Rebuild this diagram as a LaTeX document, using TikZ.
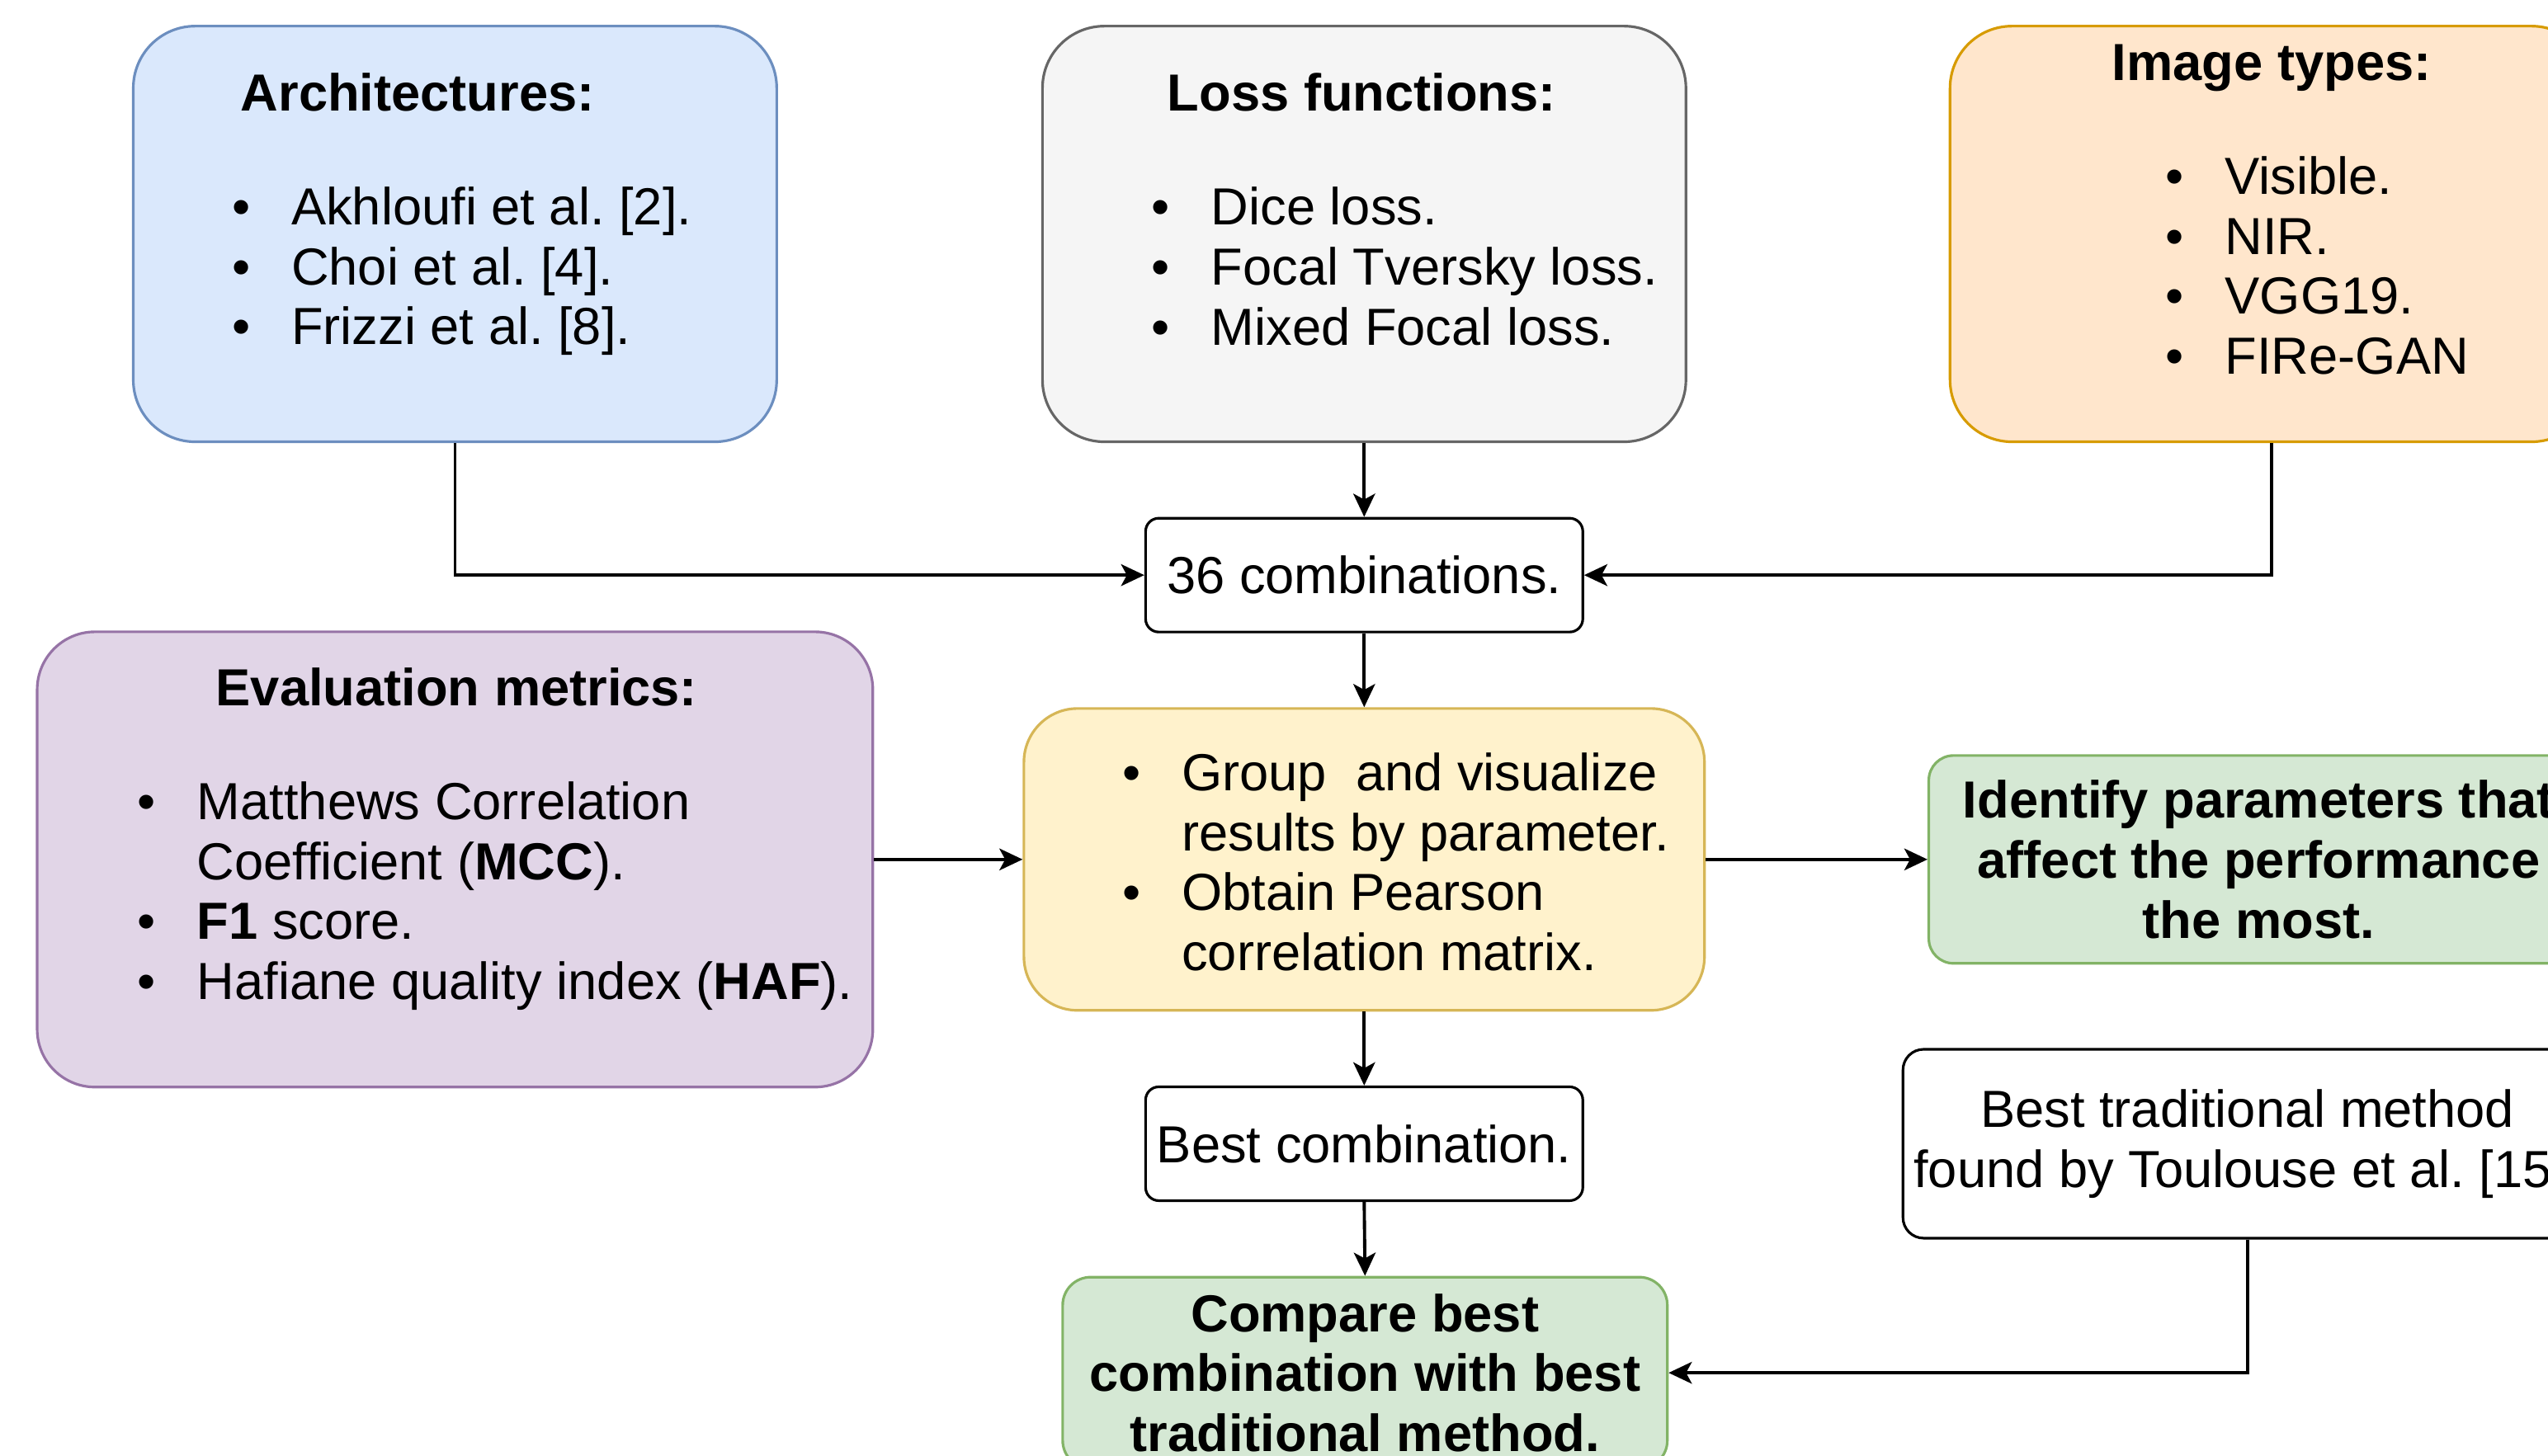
\documentclass[tikz,border=0pt]{standalone}
\usepackage{xcolor}
\usepackage{fontspec}
\setmainfont{Liberation Sans}
\usepackage{tikz}
\usetikzlibrary{arrows.meta}

\definecolor{blueF}{HTML}{DAE8FC}\definecolor{blueD}{HTML}{6C8EBF}
\definecolor{grayF}{HTML}{F5F5F5}\definecolor{grayD}{HTML}{666666}
\definecolor{orngF}{HTML}{FFE6CC}\definecolor{orngD}{HTML}{D79B00}
\definecolor{purpF}{HTML}{E1D5E7}\definecolor{purpD}{HTML}{9673A6}
\definecolor{yellF}{HTML}{FFF2CC}\definecolor{yellD}{HTML}{D6B656}
\definecolor{grnF}{HTML}{D5E8D4}\definecolor{grnD}{HTML}{82B366}
\newcommand{\itm}{\makebox[0.72cm][l]{\textbullet}}
\frenchspacing

\begin{document}
\begin{tikzpicture}[x=0.0197cm,y=-0.0197cm,
  box/.style={draw,line width=0.9pt,inner sep=0pt,rounded corners=0.75cm},
  small/.style={box,rounded corners=0.16cm,minimum width=5.30cm,minimum height=1.38cm,font=\fontsize{18}{20.7}\selectfont},
  ttl/.style={inner sep=0pt,font=\fontsize{18}{20.7}\selectfont\bfseries},
  lst/.style={anchor=west,align=left,inner sep=0pt,font=\fontsize{18}{20.7}\selectfont},
  arr/.style={-{Stealth[length=8pt,width=7.5pt,inset=2pt]},line width=1.1pt}]
\useasboundingbox (0,0) rectangle (1568,896);
\clip (0,0) rectangle (1568,896);

% top row
\node[box,fill=blueF,draw=blueD,minimum width=7.80cm,minimum height=5.04cm] (arch) at (280,144) {};
\node[ttl] (archT) at (257,57) {Architectures:};
\node[lst] (archL) at (142.4,167) {\itm Akhloufi et al. [2].\\\itm Choi et al. [4].\\\itm Frizzi et al. [8].};

\node[box,fill=grayF,draw=grayD,minimum width=7.80cm,minimum height=5.04cm] (loss) at (839.5,144) {};
\node[ttl] (lossT) at (838,57) {Loss functions:};
\node[lst] (lossL) at (708.4,164) {\itm Dice loss.\\\itm Focal Tversky loss.\\\itm Mixed Focal loss.};

\node[box,fill=orngF,draw=orngD,minimum width=7.80cm,minimum height=5.04cm] (img) at (1398,144) {};
\node[ttl] (imgT) at (1398,42) {Image types:};
\node[lst] (imgL) at (1332.4,163.5) {\itm Visible.\\\itm NIR.\\\itm VGG19.\\\itm FIRe-GAN};

\node[small,fill=white] (comb) at (839.5,354) {36 combinations.};

% middle row
\node[box,fill=purpF,draw=purpD,minimum width=10.13cm,minimum height=5.52cm,rounded corners=0.7cm] (eval) at (280,529) {};
\node[ttl] (evalT) at (281,423) {Evaluation metrics:};
\node[lst] (evalL) at (84.4,551.5) {\itm Matthews Correlation\\\hspace*{0.72cm}Coefficient (\textbf{MCC}).\\\itm \textbf{F1} score.\\\itm Hafiane quality index (\textbf{HAF}).};

\node[box,fill=yellF,draw=yellD,minimum width=8.25cm,minimum height=3.66cm,rounded corners=0.65cm] (res) at (839.5,529) {};
\node[lst] (resL) at (690.4,530.5) {\itm Group\ \ and visualize\\\hspace*{0.72cm}results by parameter.\\\itm Obtain Pearson\\\hspace*{0.72cm}correlation matrix.};

\node[box,fill=grnF,draw=grnD,minimum width=8.00cm,minimum height=2.52cm,rounded corners=0.3cm,align=center,font=\fontsize{18}{20.7}\selectfont\bfseries] (ident) at (1390,529) {Identify parameters that\\affect the performance\\the most.};

% bottom
\node[small,fill=white] (best) at (839.5,704) {Best combination.};
\node[box,fill=white,minimum width=8.35cm,minimum height=2.29cm,rounded corners=0.25cm,align=center,font=\fontsize{18}{20.7}\selectfont] (trad) at (1383,704) {Best traditional method\\found by Toulouse et al. [15].};
\node[box,fill=grnF,draw=grnD,minimum width=7.33cm,minimum height=2.32cm,rounded corners=0.34cm,align=center,font=\fontsize{18}{20.7}\selectfont\bfseries] (cmp) at (840,845) {Compare best\\combination with best\\traditional method.};

\draw[arr] (arch.south) |- (comb.west);
\draw[arr] (loss.south) -- (comb.north);
\draw[arr] (img.south) |- (comb.east);
\draw[arr] (comb.south) -- (res.north);
\draw[arr] (eval.east) -- (res.west);
\draw[arr] (res.east) -- (ident.west);
\draw[arr] (res.south) -- (best.north);
\draw[arr] (best.south) -- (cmp.north);
\draw[arr] (trad.south) |- (cmp.east);
\end{tikzpicture}
\end{document}
